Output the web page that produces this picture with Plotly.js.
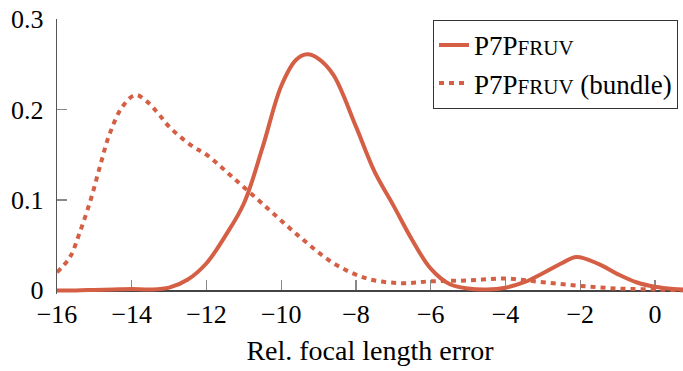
<!DOCTYPE html>
<html>
<head>
<meta charset="utf-8">
<script src="https://cdn.plot.ly/plotly-3.0.1.min.js"></script>
<style>html,body{margin:0;padding:0;background:#fff;}#chart{width:683px;height:371px;}</style>
</head>
<body>
<div id="chart"></div>
<script>
// Solid series: P7Pfruv
var solidX = [-16, -15.5, -15, -14.5, -14, -13.5, -13, -12.5, -12, -11.5, -11, -10.5, -10, -9.6, -9.3, -9, -8.6, -8, -7.5, -7, -6.5, -6, -5.5, -5, -4.5, -4, -3.5, -3, -2.5, -2.1, -1.5, -1, -0.5, 0, 0.5, 0.75];
var solidY = [0, 0, 0.0005, 0.001, 0.0015, 0.001, 0.003, 0.012, 0.03, 0.06, 0.096, 0.158, 0.226, 0.255, 0.261, 0.256, 0.238, 0.181, 0.131, 0.094, 0.056, 0.024, 0.007, 0.002, 0.001, 0.003, 0.009, 0.019, 0.030, 0.037, 0.029, 0.018, 0.009, 0.004, 0.0015, 0.001];
// Dotted series: P7Pfruv (bundle)
var bundleX = [-16, -15.65, -15.4, -15.1, -14.85, -14.6, -14.25, -13.9, -13.6, -13.3, -13, -12.4, -12, -11.3, -10.4, -9.5, -8.6, -7.7, -6.8, -6, -5, -4, -3, -2, -1, 0, 0.75];
var bundleY = [0.02, 0.037, 0.063, 0.1, 0.137, 0.172, 0.203, 0.216, 0.209, 0.196, 0.181, 0.16, 0.15, 0.125, 0.092, 0.059, 0.030, 0.013, 0.008, 0.01, 0.011, 0.013, 0.009, 0.005, 0.002, 0.001, 0];
var xTickVals = [-16, -14, -12, -10, -8, -6, -4, -2, 0];
var xTickText = ["\u221216", "\u221214", "\u221212", "\u221210", "\u22128", "\u22126", "\u22124", "\u22122", "0"];
var yTickVals = [0, 0.1, 0.2, 0.3];
var yTickText = ["0", "0.1", "0.2", "0.3"];
var seriesNames = ['P7P<span style="font-size:21px">FRUV</span>', 'P7P<span style="font-size:21px">FRUV</span> (bundle)'];

(function () {
  var lineCol = '#d55f45';
  var fam = 'Liberation Serif';
  var data = [
    {x: solidX, y: solidY, mode: 'lines', name: seriesNames[0], line: {color: lineCol, width: 4, shape: 'spline', smoothing: 1}},
    {x: bundleX, y: bundleY, mode: 'lines', name: seriesNames[1], line: {color: lineCol, width: 4, dash: '5px,5px', shape: 'spline', smoothing: 1}}
  ];
  var lay = {
    width: 683, height: 371,
    margin: {l: 57, r: 0, t: 19, b: 77},
    paper_bgcolor: '#fff', plot_bgcolor: '#fff',
    font: {family: fam, size: 26, color: '#000'},
    showlegend: true,
    legend: {x: 0.992, y: 0.997, xanchor: 'right', yanchor: 'top', bordercolor: '#333', borderwidth: 1, bgcolor: '#fff', font: {family: fam, size: 27, color: '#000'}},
    xaxis: {
      range: [-16, 0.75], showgrid: false, zeroline: false,
      anchor: 'free', position: 0.01316,
      showline: true, linecolor: '#444', linewidth: 1.2, layer: 'below traces',
      ticks: 'inside', ticklen: 10, tickcolor: '#888', tickwidth: 1.2,
      tickvals: xTickVals, ticktext: xTickText, ticklabelstandoff: 0,
      tickfont: {family: fam, size: 26, color: '#000'},
      title: {text: 'Rel. focal length error', standoff: 12, font: {family: fam, size: 28, color: '#000'}}
    },
    yaxis: {
      range: [-0.004, 0.3], showgrid: false, zeroline: false,
      showline: true, linecolor: '#555', linewidth: 1.2, layer: 'below traces',
      ticks: 'inside', ticklen: 10, tickcolor: '#888', tickwidth: 1.2,
      tickvals: yTickVals, ticktext: yTickText, ticklabelstandoff: 7,
      tickfont: {family: fam, size: 26, color: '#000'}
    }
  };
  Plotly.newPlot('chart', data, lay, {displayModeBar: false, staticPlot: true});
})();
</script>
</body>
</html>
